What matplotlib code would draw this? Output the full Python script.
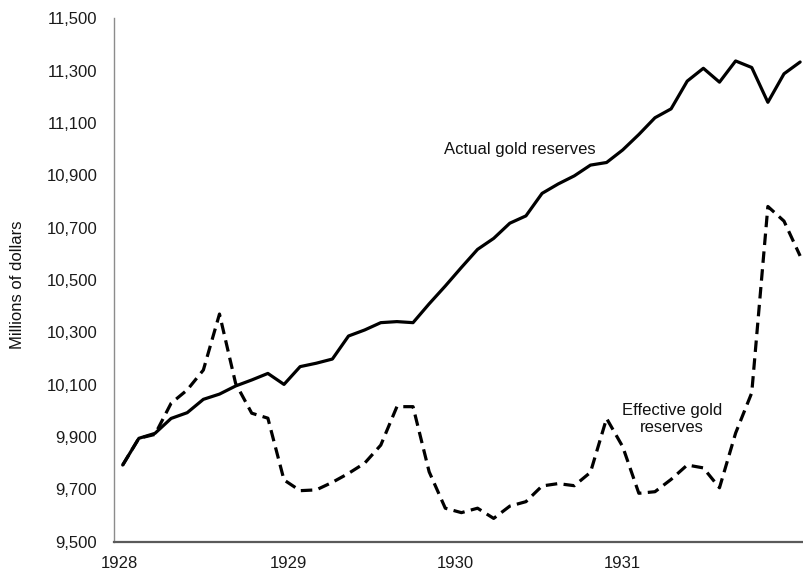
import matplotlib
matplotlib.use("Agg")
import matplotlib.pyplot as plt
import numpy as np

plt.rcParams['font.family'] = ['Liberation Sans', 'DejaVu Sans']

# Data (millions of dollars), roughly evenly spaced observations 1928 - early 1932
actual = [9793, 9895, 9914, 9971, 9993, 10044, 10064, 10095, 10118, 10143,
          10101, 10169, 10182, 10198, 10286, 10309, 10337, 10341, 10337, 10409,
          10477, 10548, 10617, 10659, 10717, 10745, 10831, 10867, 10898, 10939,
          10949, 10997, 11056, 11120, 11154, 11260, 11309, 11256, 11337, 11312,
          11179, 11288, 11333]
effective = [9793, 9895, 9910, 10029, 10080, 10156, 10370, 10105, 9991, 9972,
             9736, 9695, 9698, 9727, 9761, 9800, 9869, 10016, 10016, 9767,
             9628, 9611, 9628, 9589, 9636, 9653, 9713, 9722, 9714, 9765,
             9971, 9863, 9685, 9691, 9738, 9793, 9782, 9706, 9915, 10069,
             10781, 10725, 10592]
year_labels = ['1928', '1929', '1930', '1931']
year_pos = [-0.2, 10.3, 20.6, 30.95]
y_ticks = [9500, 9700, 9900, 10100, 10300, 10500, 10700, 10900, 11100, 11300, 11500]

x = np.arange(len(actual))

fig = plt.figure(figsize=(8.04, 5.73), dpi=100)
ax = fig.add_axes([114/804, 1 - 541.7/573, (804 - 114)/804, (541.7 - 18.3)/573])

ax.plot(x, actual, color='black', lw=2.3, solid_joinstyle='round', solid_capstyle='round')
ax.plot(x, effective, color='black', lw=2.3, linestyle=(0, (3.6, 2.0)),
        dash_joinstyle='round', dash_capstyle='butt')

ax.set_xlim(-0.54, 42.24)
ax.set_ylim(9500, 11500)
ax.set_yticks(y_ticks)
ax.set_yticklabels([f"{v:,}" for v in y_ticks])
ax.set_xticks(year_pos)
ax.set_xticklabels(year_labels)
ax.tick_params(axis='both', length=0, labelsize=12, colors='#1a1a1a')
ax.tick_params(axis='y', pad=12)
ax.tick_params(axis='x', pad=10)

for s in ['top', 'right']:
    ax.spines[s].set_visible(False)
ax.spines['left'].set_color('#8c8c8c')
ax.spines['left'].set_linewidth(1.0)
ax.spines['bottom'].set_color('#5a5a5a')
ax.spines['bottom'].set_linewidth(1.6)

ax.text(24.63, 10997, 'Actual gold reserves', ha='center', va='center', fontsize=12, color='#111111')
ax.text(34.05, 9969, 'Effective gold\nreserves', ha='center', va='center', fontsize=12,
        color='#111111', linespacing=1.15)

fig.text(18/804, 1 - 285/573, 'Millions of dollars', rotation=90, ha='center', va='center',
         fontsize=12, color='#111111')

fig.savefig('out.png', dpi=100)
